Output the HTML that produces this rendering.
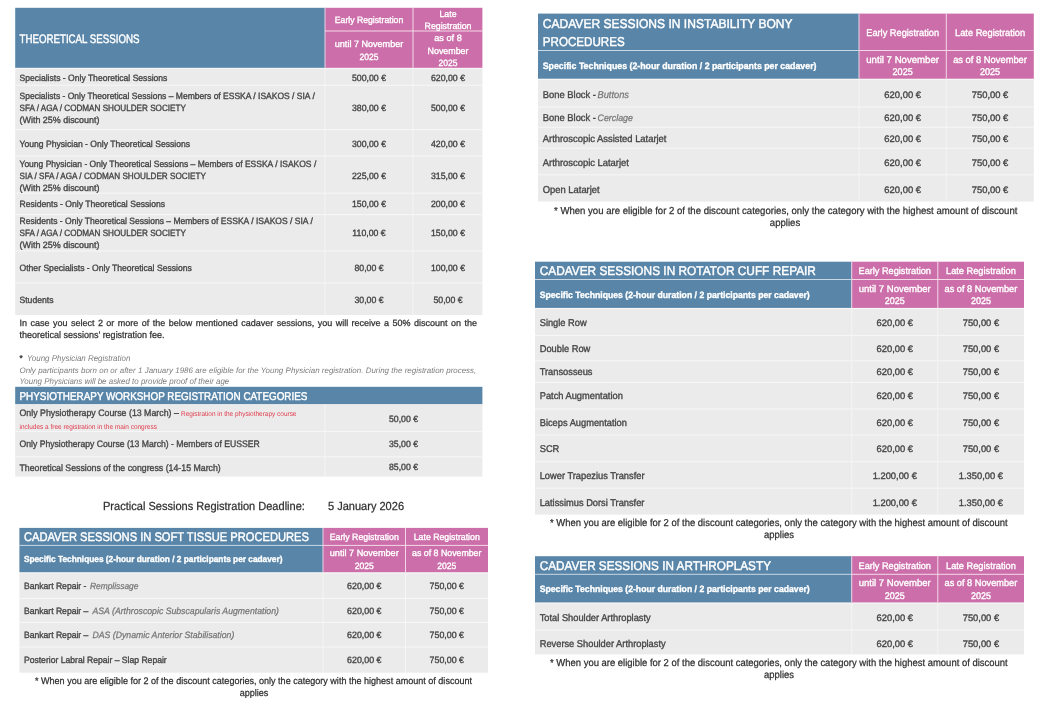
<!DOCTYPE html>
<html lang="en">
<head>
<meta charset="utf-8">
<title>Registration fees</title>
<style>
html,body{margin:0;padding:0;background:#fff;}
body{width:1040px;height:720px;position:relative;overflow:hidden;}
svg{position:absolute;left:0;top:0;display:block;font-family:"Liberation Sans",sans-serif;text-rendering:geometricPrecision;}
text{color:#464646;fill:currentColor;stroke-linejoin:round;white-space:pre;}
.a{stroke:currentColor;stroke-width:0.36px;}
.b{stroke:currentColor;stroke-width:0.25px;}
.c{stroke:none;}
.d{stroke:currentColor;stroke-width:0.45px;}
</style>
</head>
<body>
<svg width="1040" height="720" viewBox="0 0 1040 720">
<rect x="15.20" y="67.80" width="467.20" height="247.20" fill="#ebebeb"/>
<rect x="15.20" y="84.70" width="467.20" height="1.20" fill="#f6f6f6"/>
<rect x="15.20" y="129.00" width="467.20" height="1.20" fill="#f6f6f6"/>
<rect x="15.20" y="155.40" width="467.20" height="1.20" fill="#f6f6f6"/>
<rect x="15.20" y="192.60" width="467.20" height="1.20" fill="#f6f6f6"/>
<rect x="15.20" y="214.00" width="467.20" height="1.20" fill="#f6f6f6"/>
<rect x="15.20" y="250.40" width="467.20" height="1.20" fill="#f6f6f6"/>
<rect x="15.20" y="282.40" width="467.20" height="1.20" fill="#f6f6f6"/>
<rect x="324.50" y="67.80" width="1.00" height="247.20" fill="#f6f6f6"/>
<rect x="412.50" y="67.80" width="1.00" height="247.20" fill="#f6f6f6"/>
<rect x="15.20" y="67.80" width="467.20" height="1.30" fill="#f6f6f6"/>
<rect x="15.20" y="7.80" width="309.80" height="60.00" fill="#5885a8"/>
<rect x="325.00" y="7.80" width="157.40" height="60.00" fill="#cc6ea9"/>
<rect x="412.50" y="7.80" width="1.00" height="60.00" fill="#f3d9e8"/>
<rect x="324.50" y="7.80" width="1.00" height="60.00" fill="#e9d3e3"/>
<rect x="325.00" y="30.50" width="157.40" height="1.00" fill="#f3d9e8"/>
<text class="d" font-size="12.30" style="color:#fff" transform="translate(19.50,43) scale(0.7897,1)">THEORETICAL SESSIONS</text>
<text class="a" font-size="9.20" style="color:#fff" text-anchor="middle" transform="translate(369.00,23) scale(0.9434,1)">Early Registration</text>
<text class="a" font-size="9.20" style="color:#fff" text-anchor="middle" transform="translate(448.00,17) scale(0.9494,1)">Late</text>
<text class="a" font-size="9.20" style="color:#fff" text-anchor="middle" transform="translate(448.00,29) scale(0.9574,1)">Registration</text>
<text class="a" font-size="9.20" style="color:#fff" text-anchor="middle" transform="translate(369.00,47) scale(0.9850,1)">until 7 November</text>
<text class="a" font-size="9.20" style="color:#fff" text-anchor="middle" transform="translate(369.00,60) scale(0.9283,1)">2025</text>
<text class="a" font-size="9.20" style="color:#fff" text-anchor="middle" transform="translate(448.00,41) scale(0.9957,1)">as of 8</text>
<text class="a" font-size="9.20" style="color:#fff" text-anchor="middle" transform="translate(448.00,54) scale(0.9661,1)">November</text>
<text class="a" font-size="9.20" style="color:#fff" text-anchor="middle" transform="translate(448.00,66) scale(0.9283,1)">2025</text>
<text class="a" font-size="9.12" transform="translate(19.50,81) scale(0.9402,1)">Specialists - Only Theoretical Sessions</text>
<text class="a" font-size="9.10" text-anchor="middle" transform="translate(369.00,81) scale(0.9598,1)">500,00 €</text>
<text class="a" font-size="9.10" text-anchor="middle" transform="translate(448.00,81) scale(0.9598,1)">620,00 €</text>
<text class="a" font-size="9.12" transform="translate(19.50,99) scale(0.9337,1)">Specialists - Only Theoretical Sessions – Members of ESSKA / ISAKOS / SIA /</text>
<text class="a" font-size="9.12" transform="translate(19.50,111) scale(0.8931,1)">SFA / AGA / CODMAN SHOULDER SOCIETY</text>
<text class="a" font-size="9.12" transform="translate(19.50,123) scale(0.9808,1)">(With 25% discount)</text>
<text class="a" font-size="9.10" text-anchor="middle" transform="translate(369.00,111) scale(0.9598,1)">380,00 €</text>
<text class="a" font-size="9.10" text-anchor="middle" transform="translate(448.00,111) scale(0.9598,1)">500,00 €</text>
<text class="a" font-size="9.12" transform="translate(19.50,147) scale(0.9434,1)">Young Physician - Only Theoretical Sessions</text>
<text class="a" font-size="9.10" text-anchor="middle" transform="translate(369.00,147) scale(0.9598,1)">300,00 €</text>
<text class="a" font-size="9.10" text-anchor="middle" transform="translate(448.00,147) scale(0.9598,1)">420,00 €</text>
<text class="a" font-size="9.12" transform="translate(19.50,167) scale(0.9333,1)">Young Physician - Only Theoretical Sessions – Members of ESSKA / ISAKOS /</text>
<text class="a" font-size="9.12" transform="translate(19.50,179) scale(0.8957,1)">SIA / SFA / AGA / CODMAN SHOULDER SOCIETY</text>
<text class="a" font-size="9.12" transform="translate(19.50,191) scale(0.9808,1)">(With 25% discount)</text>
<text class="a" font-size="9.10" text-anchor="middle" transform="translate(369.00,179) scale(0.9598,1)">225,00 €</text>
<text class="a" font-size="9.10" text-anchor="middle" transform="translate(448.00,179) scale(0.9598,1)">315,00 €</text>
<text class="a" font-size="9.12" transform="translate(19.50,207) scale(0.9434,1)">Residents - Only Theoretical Sessions</text>
<text class="a" font-size="9.10" text-anchor="middle" transform="translate(369.00,207) scale(0.9598,1)">150,00 €</text>
<text class="a" font-size="9.10" text-anchor="middle" transform="translate(448.00,207) scale(0.9598,1)">200,00 €</text>
<text class="a" font-size="9.12" transform="translate(19.50,224) scale(0.9363,1)">Residents - Only Theoretical Sessions – Members of ESSKA / ISAKOS / SIA /</text>
<text class="a" font-size="9.12" transform="translate(19.50,236) scale(0.8931,1)">SFA / AGA / CODMAN SHOULDER SOCIETY</text>
<text class="a" font-size="9.12" transform="translate(19.50,248) scale(0.9808,1)">(With 25% discount)</text>
<text class="a" font-size="9.10" text-anchor="middle" transform="translate(369.00,236) scale(0.9598,1)">110,00 €</text>
<text class="a" font-size="9.10" text-anchor="middle" transform="translate(448.00,236) scale(0.9598,1)">150,00 €</text>
<text class="a" font-size="9.12" transform="translate(19.50,271) scale(0.9434,1)">Other Specialists - Only Theoretical Sessions</text>
<text class="a" font-size="9.10" text-anchor="middle" transform="translate(369.00,271) scale(0.9598,1)">80,00 €</text>
<text class="a" font-size="9.10" text-anchor="middle" transform="translate(448.00,271) scale(0.9598,1)">100,00 €</text>
<text class="a" font-size="9.12" transform="translate(19.50,303) scale(0.9434,1)">Students</text>
<text class="a" font-size="9.10" text-anchor="middle" transform="translate(369.00,303) scale(0.9598,1)">30,00 €</text>
<text class="a" font-size="9.10" text-anchor="middle" transform="translate(448.00,303) scale(0.9598,1)">50,00 €</text>
<text class="b" font-size="9.00" style="color:#303030" word-spacing="0.963" x="19.50" y="326">In case you select 2 or more of the below mentioned cadaver sessions, you will receive a 50% discount on the</text>
<text class="b" font-size="9.54" style="color:#303030" transform="translate(19.50,338) scale(0.9434,1)">theoretical sessions’ registration fee.</text>
<text class="a" font-size="8.48" style="color:#333" transform="translate(19.50,361) scale(0.9434,1)">*</text>
<text class="c" font-size="8.43" style="color:#7d7d7d" font-style="italic" transform="translate(27.00,361) scale(0.9434,1)">Young Physician Registration</text>
<text class="c" font-size="7.95" style="color:#7d7d7d" font-style="italic" word-spacing="0.106" x="19.50" y="373">Only participants born on or after 1 January 1986 are eligible for the Young Physician registration. During the registration process,</text>
<text class="c" font-size="8.43" style="color:#7d7d7d" font-style="italic" transform="translate(19.50,384) scale(0.9434,1)">Young Physicians will be asked to provide proof of their age</text>
<rect x="15.20" y="386.80" width="467.20" height="17.50" fill="#5885a8"/>
<rect x="15.20" y="404.30" width="467.20" height="72.30" fill="#ebebeb"/>
<rect x="15.20" y="430.90" width="467.20" height="1.20" fill="#f6f6f6"/>
<rect x="15.20" y="456.20" width="467.20" height="1.20" fill="#f6f6f6"/>
<rect x="324.50" y="404.30" width="1.00" height="72.30" fill="#f6f6f6"/>
<text class="d" font-size="11.30" style="color:#fff" transform="translate(19.50,400) scale(0.8742,1)">PHYSIOTHERAPY WORKSHOP REGISTRATION CATEGORIES</text>
<text class="a" font-size="9.43" transform="translate(19.50,416) scale(0.9331,1)">Only Physiotherapy Course (13 March) –</text>
<text class="c" font-size="6.86" style="color:#e0394a" transform="translate(181.00,416) scale(0.9434,1)">Registration in the physiotherapy course</text>
<text class="c" font-size="6.86" style="color:#e0394a" transform="translate(19.50,429) scale(0.9434,1)">includes a free registration in the main congress</text>
<text class="a" font-size="9.10" text-anchor="middle" transform="translate(403.50,422) scale(0.9598,1)">50,00 €</text>
<text class="a" font-size="9.43" transform="translate(19.50,447) scale(0.9156,1)">Only Physiotherapy Course (13 March) - Members of EUSSER</text>
<text class="a" font-size="9.10" text-anchor="middle" transform="translate(403.50,447) scale(0.9598,1)">35,00 €</text>
<text class="a" font-size="9.43" transform="translate(19.50,471) scale(0.9304,1)">Theoretical Sessions of the congress (14-15 March)</text>
<text class="a" font-size="9.10" text-anchor="middle" transform="translate(403.50,470) scale(0.9598,1)">85,00 €</text>
<text class="b" font-size="11.71" style="color:#303030" transform="translate(103.00,510) scale(0.9434,1)">Practical Sessions Registration Deadline:</text>
<text class="b" font-size="11.69" style="color:#303030" transform="translate(328.00,510) scale(0.9434,1)">5 January 2026</text>
<rect x="19.40" y="572.20" width="468.60" height="100.50" fill="#ebebeb"/>
<rect x="19.40" y="597.90" width="468.60" height="1.20" fill="#f6f6f6"/>
<rect x="19.40" y="621.80" width="468.60" height="1.20" fill="#f6f6f6"/>
<rect x="19.40" y="646.40" width="468.60" height="1.20" fill="#f6f6f6"/>
<rect x="322.50" y="572.20" width="1.00" height="100.50" fill="#f6f6f6"/>
<rect x="405.00" y="572.20" width="1.00" height="100.50" fill="#f6f6f6"/>
<rect x="19.40" y="572.20" width="468.60" height="1.30" fill="#f6f6f6"/>
<rect x="19.40" y="527.90" width="303.60" height="44.30" fill="#5885a8"/>
<rect x="323.00" y="527.90" width="165.00" height="44.30" fill="#cc6ea9"/>
<rect x="405.00" y="527.90" width="1.00" height="44.30" fill="#f3d9e8"/>
<rect x="322.50" y="527.90" width="1.00" height="44.30" fill="#e9d3e3"/>
<rect x="323.00" y="544.90" width="165.00" height="1.00" fill="#f3d9e8"/>
<rect x="19.40" y="544.90" width="303.60" height="1.00" fill="#c9d8e4"/>
<text class="d" font-size="12.50" style="color:#fff" transform="translate(23.90,541) scale(0.8920,1)">CADAVER SESSIONS IN SOFT TISSUE PROCEDURES</text>
<text class="a" font-size="8.81" style="color:#fff" font-weight="bold" transform="translate(23.90,562) scale(0.9434,1)">Specific Techniques (2-hour duration / 2 participants per cadaver)</text>
<text class="a" font-size="9.20" style="color:#fff" text-anchor="middle" transform="translate(364.25,540) scale(0.9530,1)">Early Registration</text>
<text class="a" font-size="9.20" style="color:#fff" text-anchor="middle" transform="translate(446.75,540) scale(0.9503,1)">Late Registration</text>
<text class="a" font-size="9.20" style="color:#fff" text-anchor="middle" transform="translate(364.25,556) scale(0.9922,1)">until 7 November</text>
<text class="a" font-size="9.20" style="color:#fff" text-anchor="middle" transform="translate(364.25,569) scale(0.9338,1)">2025</text>
<text class="a" font-size="9.20" style="color:#fff" text-anchor="middle" transform="translate(446.75,556) scale(0.9557,1)">as of 8 November</text>
<text class="a" font-size="9.20" style="color:#fff" text-anchor="middle" transform="translate(446.75,569) scale(0.9338,1)">2025</text>
<text class="a" font-size="9.12" transform="translate(23.90,589) scale(0.9434,1)">Bankart Repair -</text>
<text class="b" font-size="8.89" style="color:#767676" font-style="italic" transform="translate(90.00,589) scale(0.9434,1)">Remplissage</text>
<text class="a" font-size="9.10" text-anchor="middle" transform="translate(364.25,589) scale(0.9711,1)">620,00 €</text>
<text class="a" font-size="9.10" text-anchor="middle" transform="translate(446.75,589) scale(0.9711,1)">750,00 €</text>
<text class="a" font-size="9.12" transform="translate(23.90,614) scale(0.9434,1)">Bankart Repair –</text>
<text class="b" font-size="9.22" style="color:#767676" font-style="italic" transform="translate(92.50,614) scale(0.9434,1)">ASA (Arthroscopic Subscapularis Augmentation)</text>
<text class="a" font-size="9.10" text-anchor="middle" transform="translate(364.25,614) scale(0.9711,1)">620,00 €</text>
<text class="a" font-size="9.10" text-anchor="middle" transform="translate(446.75,614) scale(0.9711,1)">750,00 €</text>
<text class="a" font-size="9.12" transform="translate(23.90,638) scale(0.9434,1)">Bankart Repair –</text>
<text class="b" font-size="9.23" style="color:#767676" font-style="italic" transform="translate(92.50,638) scale(0.9434,1)">DAS (Dynamic Anterior Stabilisation)</text>
<text class="a" font-size="9.10" text-anchor="middle" transform="translate(364.25,638) scale(0.9711,1)">620,00 €</text>
<text class="a" font-size="9.10" text-anchor="middle" transform="translate(446.75,638) scale(0.9711,1)">750,00 €</text>
<text class="a" font-size="9.12" transform="translate(23.90,663) scale(0.9434,1)">Posterior Labral Repair – Slap Repair</text>
<text class="a" font-size="9.10" text-anchor="middle" transform="translate(364.25,663) scale(0.9711,1)">620,00 €</text>
<text class="a" font-size="9.10" text-anchor="middle" transform="translate(446.75,663) scale(0.9711,1)">750,00 €</text>
<text class="b" font-size="9.58" style="color:#303030" transform="translate(35.00,684) scale(0.9434,1)">* When you are eligible for 2 of the discount categories, only the category with the highest amount of discount</text>
<text class="b" font-size="9.58" style="color:#303030" text-anchor="middle" transform="translate(254.00,696) scale(0.9434,1)">applies</text>
<rect x="538.00" y="78.70" width="495.80" height="122.80" fill="#ebebeb"/>
<rect x="538.00" y="106.40" width="495.80" height="1.20" fill="#f6f6f6"/>
<rect x="538.00" y="126.70" width="495.80" height="1.20" fill="#f6f6f6"/>
<rect x="538.00" y="147.60" width="495.80" height="1.20" fill="#f6f6f6"/>
<rect x="538.00" y="174.20" width="495.80" height="1.20" fill="#f6f6f6"/>
<rect x="858.50" y="78.70" width="1.00" height="122.80" fill="#f6f6f6"/>
<rect x="945.80" y="78.70" width="1.00" height="122.80" fill="#f6f6f6"/>
<rect x="538.00" y="78.70" width="495.80" height="1.30" fill="#f6f6f6"/>
<rect x="538.00" y="13.60" width="321.00" height="65.10" fill="#5885a8"/>
<rect x="859.00" y="13.60" width="174.80" height="65.10" fill="#cc6ea9"/>
<rect x="945.80" y="13.60" width="1.00" height="65.10" fill="#f3d9e8"/>
<rect x="858.50" y="13.60" width="1.00" height="65.10" fill="#e9d3e3"/>
<rect x="859.00" y="50.00" width="174.80" height="1.00" fill="#f3d9e8"/>
<rect x="538.00" y="50.00" width="321.00" height="1.00" fill="#c9d8e4"/>
<text class="d" font-size="12.90" style="color:#fff" transform="translate(542.76,28) scale(0.9350,1)">CADAVER SESSIONS IN INSTABILITY BONY</text>
<text class="d" font-size="12.90" style="color:#fff" transform="translate(542.76,46) scale(0.9008,1)">PROCEDURES</text>
<text class="a" font-size="9.32" style="color:#fff" font-weight="bold" transform="translate(542.76,69) scale(0.9434,1)">Specific Techniques (2-hour duration / 2 participants per cadaver)</text>
<text class="a" font-size="9.73" style="color:#fff" text-anchor="middle" transform="translate(902.65,36) scale(0.9489,1)">Early Registration</text>
<text class="a" font-size="9.73" style="color:#fff" text-anchor="middle" transform="translate(990.05,36) scale(0.9539,1)">Late Registration</text>
<text class="a" font-size="9.73" style="color:#fff" text-anchor="middle" transform="translate(902.65,63) scale(0.9907,1)">until 7 November</text>
<text class="a" font-size="9.73" style="color:#fff" text-anchor="middle" transform="translate(902.65,75) scale(0.9325,1)">2025</text>
<text class="a" font-size="9.73" style="color:#fff" text-anchor="middle" transform="translate(990.05,63) scale(0.9619,1)">as of 8 November</text>
<text class="a" font-size="9.73" style="color:#fff" text-anchor="middle" transform="translate(990.05,75) scale(0.9325,1)">2025</text>
<text class="a" font-size="9.96" transform="translate(542.76,98) scale(0.9434,1)">Bone Block -</text>
<text class="b" font-size="9.85" style="color:#767676" font-style="italic" transform="translate(597.50,98) scale(0.9434,1)">Buttons</text>
<text class="a" font-size="9.40" text-anchor="middle" transform="translate(902.65,98) scale(1.0030,1)">620,00 €</text>
<text class="a" font-size="9.40" text-anchor="middle" transform="translate(990.05,98) scale(1.0030,1)">750,00 €</text>
<text class="a" font-size="9.96" transform="translate(542.76,121) scale(0.9434,1)">Bone Block -</text>
<text class="b" font-size="9.40" style="color:#767676" font-style="italic" transform="translate(597.50,121) scale(0.9434,1)">Cerclage</text>
<text class="a" font-size="9.40" text-anchor="middle" transform="translate(902.65,121) scale(1.0030,1)">620,00 €</text>
<text class="a" font-size="9.40" text-anchor="middle" transform="translate(990.05,121) scale(1.0030,1)">750,00 €</text>
<text class="a" font-size="9.96" transform="translate(542.76,142) scale(0.9434,1)">Arthroscopic Assisted Latarjet</text>
<text class="a" font-size="9.40" text-anchor="middle" transform="translate(902.65,142) scale(1.0030,1)">620,00 €</text>
<text class="a" font-size="9.40" text-anchor="middle" transform="translate(990.05,142) scale(1.0030,1)">750,00 €</text>
<text class="a" font-size="9.96" transform="translate(542.76,166) scale(0.9434,1)">Arthroscopic Latarjet</text>
<text class="a" font-size="9.40" text-anchor="middle" transform="translate(902.65,166) scale(1.0030,1)">620,00 €</text>
<text class="a" font-size="9.40" text-anchor="middle" transform="translate(990.05,166) scale(1.0030,1)">750,00 €</text>
<text class="a" font-size="9.96" transform="translate(542.76,193) scale(0.9434,1)">Open Latarjet</text>
<text class="a" font-size="9.40" text-anchor="middle" transform="translate(902.65,193) scale(1.0030,1)">620,00 €</text>
<text class="a" font-size="9.40" text-anchor="middle" transform="translate(990.05,193) scale(1.0030,1)">750,00 €</text>
<text class="b" font-size="10.16" style="color:#303030" transform="translate(554.00,214) scale(0.9434,1)">* When you are eligible for 2 of the discount categories, only the category with the highest amount of discount</text>
<text class="b" font-size="10.16" style="color:#303030" text-anchor="middle" transform="translate(785.00,226) scale(0.9434,1)">applies</text>
<rect x="535.00" y="307.90" width="489.00" height="206.70" fill="#ebebeb"/>
<rect x="535.00" y="334.90" width="489.00" height="1.20" fill="#f6f6f6"/>
<rect x="535.00" y="360.20" width="489.00" height="1.20" fill="#f6f6f6"/>
<rect x="535.00" y="381.90" width="489.00" height="1.20" fill="#f6f6f6"/>
<rect x="535.00" y="408.30" width="489.00" height="1.20" fill="#f6f6f6"/>
<rect x="535.00" y="434.50" width="489.00" height="1.20" fill="#f6f6f6"/>
<rect x="535.00" y="461.10" width="489.00" height="1.20" fill="#f6f6f6"/>
<rect x="535.00" y="487.60" width="489.00" height="1.20" fill="#f6f6f6"/>
<rect x="851.20" y="307.90" width="1.00" height="206.70" fill="#f6f6f6"/>
<rect x="937.30" y="307.90" width="1.00" height="206.70" fill="#f6f6f6"/>
<rect x="535.00" y="307.90" width="489.00" height="1.30" fill="#f6f6f6"/>
<rect x="535.00" y="261.70" width="316.70" height="46.20" fill="#5885a8"/>
<rect x="851.70" y="261.70" width="172.30" height="46.20" fill="#cc6ea9"/>
<rect x="937.30" y="261.70" width="1.00" height="46.20" fill="#f3d9e8"/>
<rect x="851.20" y="261.70" width="1.00" height="46.20" fill="#e9d3e3"/>
<rect x="851.70" y="279.00" width="172.30" height="1.00" fill="#f3d9e8"/>
<rect x="535.00" y="279.00" width="316.70" height="1.00" fill="#c9d8e4"/>
<text class="d" font-size="12.70" style="color:#fff" transform="translate(539.70,275) scale(0.9344,1)">CADAVER SESSIONS IN ROTATOR CUFF REPAIR</text>
<text class="a" font-size="9.20" style="color:#fff" font-weight="bold" transform="translate(539.70,298) scale(0.9434,1)">Specific Techniques (2-hour duration / 2 participants per cadaver)</text>
<text class="a" font-size="9.60" style="color:#fff" text-anchor="middle" transform="translate(894.75,274) scale(0.9568,1)">Early Registration</text>
<text class="a" font-size="9.60" style="color:#fff" text-anchor="middle" transform="translate(980.90,274) scale(0.9617,1)">Late Registration</text>
<text class="a" font-size="9.60" style="color:#fff" text-anchor="middle" transform="translate(894.75,292) scale(0.9935,1)">until 7 November</text>
<text class="a" font-size="9.60" style="color:#fff" text-anchor="middle" transform="translate(894.75,304) scale(0.9351,1)">2025</text>
<text class="a" font-size="9.60" style="color:#fff" text-anchor="middle" transform="translate(980.90,292) scale(0.9594,1)">as of 8 November</text>
<text class="a" font-size="9.60" style="color:#fff" text-anchor="middle" transform="translate(980.90,304) scale(0.9351,1)">2025</text>
<text class="a" font-size="9.86" transform="translate(539.70,326) scale(0.9434,1)">Single Row</text>
<text class="a" font-size="9.40" text-anchor="middle" transform="translate(894.75,326) scale(0.9975,1)">620,00 €</text>
<text class="a" font-size="9.40" text-anchor="middle" transform="translate(980.90,326) scale(0.9975,1)">750,00 €</text>
<text class="a" font-size="9.86" transform="translate(539.70,352) scale(0.9434,1)">Double Row</text>
<text class="a" font-size="9.40" text-anchor="middle" transform="translate(894.75,352) scale(0.9975,1)">620,00 €</text>
<text class="a" font-size="9.40" text-anchor="middle" transform="translate(980.90,352) scale(0.9975,1)">750,00 €</text>
<text class="a" font-size="9.86" transform="translate(539.70,375) scale(0.9434,1)">Transosseus</text>
<text class="a" font-size="9.40" text-anchor="middle" transform="translate(894.75,375) scale(0.9975,1)">620,00 €</text>
<text class="a" font-size="9.40" text-anchor="middle" transform="translate(980.90,375) scale(0.9975,1)">750,00 €</text>
<text class="a" font-size="9.86" transform="translate(539.70,399) scale(0.9434,1)">Patch Augmentation</text>
<text class="a" font-size="9.40" text-anchor="middle" transform="translate(894.75,399) scale(0.9975,1)">620,00 €</text>
<text class="a" font-size="9.40" text-anchor="middle" transform="translate(980.90,399) scale(0.9975,1)">750,00 €</text>
<text class="a" font-size="9.86" transform="translate(539.70,426) scale(0.9434,1)">Biceps Augmentation</text>
<text class="a" font-size="9.40" text-anchor="middle" transform="translate(894.75,426) scale(0.9975,1)">620,00 €</text>
<text class="a" font-size="9.40" text-anchor="middle" transform="translate(980.90,426) scale(0.9975,1)">750,00 €</text>
<text class="a" font-size="9.86" transform="translate(539.70,452) scale(0.9434,1)">SCR</text>
<text class="a" font-size="9.40" text-anchor="middle" transform="translate(894.75,452) scale(0.9975,1)">620,00 €</text>
<text class="a" font-size="9.40" text-anchor="middle" transform="translate(980.90,452) scale(0.9975,1)">750,00 €</text>
<text class="a" font-size="9.86" transform="translate(539.70,479) scale(0.9434,1)">Lower Trapezius Transfer</text>
<text class="a" font-size="9.40" text-anchor="middle" transform="translate(894.75,479) scale(0.9975,1)">1.200,00 €</text>
<text class="a" font-size="9.40" text-anchor="middle" transform="translate(980.90,479) scale(0.9975,1)">1.350,00 €</text>
<text class="a" font-size="9.86" transform="translate(539.70,506) scale(0.9434,1)">Latissimus Dorsi Transfer</text>
<text class="a" font-size="9.40" text-anchor="middle" transform="translate(894.75,506) scale(0.9975,1)">1.200,00 €</text>
<text class="a" font-size="9.40" text-anchor="middle" transform="translate(980.90,506) scale(0.9975,1)">1.350,00 €</text>
<text class="b" font-size="10.04" style="color:#303030" transform="translate(550.00,526) scale(0.9434,1)">* When you are eligible for 2 of the discount categories, only the category with the highest amount of discount</text>
<text class="b" font-size="10.04" style="color:#303030" text-anchor="middle" transform="translate(779.00,538) scale(0.9434,1)">applies</text>
<rect x="535.00" y="602.40" width="489.00" height="52.00" fill="#ebebeb"/>
<rect x="535.00" y="629.50" width="489.00" height="1.20" fill="#f6f6f6"/>
<rect x="851.20" y="602.40" width="1.00" height="52.00" fill="#f6f6f6"/>
<rect x="937.30" y="602.40" width="1.00" height="52.00" fill="#f6f6f6"/>
<rect x="535.00" y="602.40" width="489.00" height="1.30" fill="#f6f6f6"/>
<rect x="535.00" y="556.20" width="316.70" height="46.20" fill="#5885a8"/>
<rect x="851.70" y="556.20" width="172.30" height="46.20" fill="#cc6ea9"/>
<rect x="937.30" y="556.20" width="1.00" height="46.20" fill="#f3d9e8"/>
<rect x="851.20" y="556.20" width="1.00" height="46.20" fill="#e9d3e3"/>
<rect x="851.70" y="573.80" width="172.30" height="1.00" fill="#f3d9e8"/>
<rect x="535.00" y="573.80" width="316.70" height="1.00" fill="#c9d8e4"/>
<text class="d" font-size="12.70" style="color:#fff" transform="translate(539.70,570) scale(0.9257,1)">CADAVER SESSIONS IN ARTHROPLASTY</text>
<text class="a" font-size="9.20" style="color:#fff" font-weight="bold" transform="translate(539.70,592) scale(0.9434,1)">Specific Techniques (2-hour duration / 2 participants per cadaver)</text>
<text class="a" font-size="9.60" style="color:#fff" text-anchor="middle" transform="translate(894.75,569) scale(0.9568,1)">Early Registration</text>
<text class="a" font-size="9.60" style="color:#fff" text-anchor="middle" transform="translate(980.90,569) scale(0.9617,1)">Late Registration</text>
<text class="a" font-size="9.60" style="color:#fff" text-anchor="middle" transform="translate(894.75,586) scale(0.9935,1)">until 7 November</text>
<text class="a" font-size="9.60" style="color:#fff" text-anchor="middle" transform="translate(894.75,599) scale(0.9351,1)">2025</text>
<text class="a" font-size="9.60" style="color:#fff" text-anchor="middle" transform="translate(980.90,586) scale(0.9594,1)">as of 8 November</text>
<text class="a" font-size="9.60" style="color:#fff" text-anchor="middle" transform="translate(980.90,599) scale(0.9351,1)">2025</text>
<text class="a" font-size="9.86" transform="translate(539.70,621) scale(0.9434,1)">Total Shoulder Arthroplasty</text>
<text class="a" font-size="9.40" text-anchor="middle" transform="translate(894.75,621) scale(0.9975,1)">620,00 €</text>
<text class="a" font-size="9.40" text-anchor="middle" transform="translate(980.90,621) scale(0.9975,1)">750,00 €</text>
<text class="a" font-size="9.86" transform="translate(539.70,647) scale(0.9434,1)">Reverse Shoulder Arthroplasty</text>
<text class="a" font-size="9.40" text-anchor="middle" transform="translate(894.75,647) scale(0.9975,1)">620,00 €</text>
<text class="a" font-size="9.40" text-anchor="middle" transform="translate(980.90,647) scale(0.9975,1)">750,00 €</text>
<text class="b" font-size="10.04" style="color:#303030" transform="translate(550.00,666) scale(0.9434,1)">* When you are eligible for 2 of the discount categories, only the category with the highest amount of discount</text>
<text class="b" font-size="10.04" style="color:#303030" text-anchor="middle" transform="translate(779.00,678) scale(0.9434,1)">applies</text>
</svg>
</body>
</html>
